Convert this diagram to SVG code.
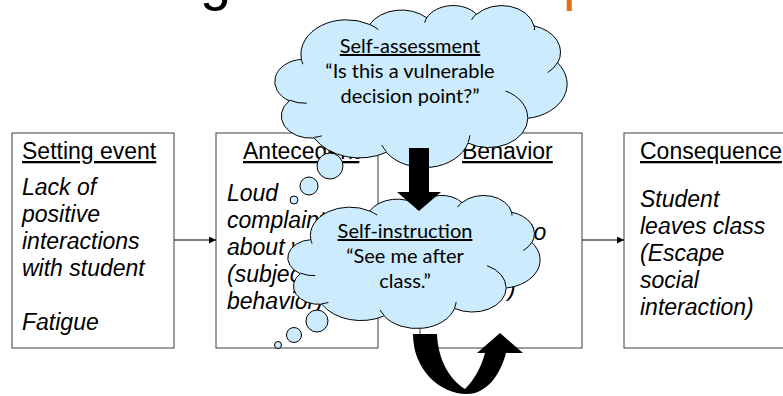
<svg xmlns="http://www.w3.org/2000/svg" width="783" height="396" viewBox="0 0 783 396">
<defs>
<style>
.box{fill:#fff;stroke:#3f3f3f;stroke-width:1}
.hdr{font-family:"Liberation Sans",Arial,sans-serif;font-size:23px;text-decoration:underline;fill:#000}
.body{font-family:"Liberation Sans",Arial,sans-serif;font-size:23px;font-style:italic;fill:#000}
.cloud{fill:#CCEBFC;stroke:#000;stroke-width:1}
.cloudline{fill:none;stroke:#000;stroke-width:1}
.ctext{font-family:Lato,"Open Sans",sans-serif;font-size:20px;fill:#000;text-anchor:middle}
.u{text-decoration:underline}
.conn{stroke:#000;stroke-width:1;fill:none}
.block{fill:#000;stroke:none}
.title{font-family:"Liberation Sans",Arial,sans-serif;font-size:56px}
</style>
<path id="cloudShape" vector-effect="non-scaling-stroke" d="M39.00,143.70 A67.53,91.90 0 0 1 140.05,52.02 A53.33,72.67 0 0 1 224.56,34.32 A43.65,59.45 0 0 1 298.33,24.81 A48.57,65.95 0 0 1 383.17,55.78 A53.33,72.73 0 0 1 418.18,154.62 A67.75,92.20 0 0 1 374.05,302.07 A57.85,78.67 0 0 1 285.56,368.18 A67.52,92.15 0 0 1 164.80,392.69 A77.20,105.43 0 0 1 58.02,354.75 A43.60,59.18 0 0 1 21.10,255.53 A43.45,59.45 0 0 1 38.60,145.09 Z"/>
<path id="cloudInner" vector-effect="non-scaling-stroke" d="M46.93,261.77 A43.45,59.45 0 0 1 21.60,253.80 M69.28,348.99 A43.60,59.18 0 0 1 58.19,352.81 M164.78,390.90 A67.52,92.15 0 0 1 158.11,373.48 M288.27,347.51 A67.52,92.15 0 0 1 285.60,366.61 M341.29,229.54 A57.85,78.67 0 0 1 373.81,300.89 M417.98,153.54 A53.33,72.73 0 0 1 403.50,180.30 M383.24,54.26 A48.57,65.95 0 0 1 384.00,66.89 M290.78,39.52 A48.57,65.95 0 0 1 298.21,23.38 M221.41,47.20 A43.65,59.45 0 0 1 225.00,33.29 M140.00,51.92 A67.53,91.90 0 0 1 153.00,65.41 M41.27,157.89 A67.53,91.90 0 0 1 39.01,143.72"/>
<marker id="ah" viewBox="0 0 10 10" refX="10" refY="5" markerWidth="8" markerHeight="7" orient="auto" markerUnits="userSpaceOnUse"><path d="M0,0 L10,5 L0,10 Z" fill="#000"/></marker>
</defs>
<rect x="0" y="0" width="783" height="396" fill="#fff"/>

<g id="title">
<text class="title" x="200" y="-1" fill="#000">g</text>
<text class="title" x="563" y="-1" fill="#E46C0A">p</text>
</g>

<g id="setting-event">
<rect class="box" x="12" y="133" width="162" height="215"/>
<text class="hdr" x="22" y="159">Setting event</text>
<text class="body" x="22" y="195">Lack of</text>
<text class="body" x="22" y="222">positive</text>
<text class="body" x="22" y="249">interactions</text>
<text class="body" x="22" y="276">with student</text>
<text class="body" x="22" y="330">Fatigue</text>
</g>

<g id="antecedent">
<rect class="box" x="216" y="133" width="162" height="215"/>
<text class="hdr" x="243" y="159">Antecedent</text>
<text class="body" x="227" y="201">Loud</text>
<text class="body" x="227" y="228">complaints</text>
<text class="body" x="227" y="255">about work</text>
<text class="body" x="227" y="282">(subjective</text>
<text class="body" x="227" y="309">behavior)</text>
</g>

<g id="behavior">
<rect class="box" x="420" y="133" width="162" height="215"/>
<text class="hdr" x="462" y="159">Behavior</text>
<text class="body" x="527" y="240">to</text>
<text class="body" x="508" y="296">)</text>
</g>

<g id="consequence">
<rect class="box" x="624" y="133" width="162" height="215"/>
<text class="hdr" x="640" y="159">Consequence</text>
<text class="body" x="640" y="207">Student</text>
<text class="body" x="640" y="234">leaves class</text>
<text class="body" x="640" y="261">(Escape</text>
<text class="body" x="640" y="288">social</text>
<text class="body" x="640" y="315">interaction)</text>
</g>

<g id="connectors-lines">
<line class="conn" x1="174" y1="240" x2="216" y2="240" marker-end="url(#ah)"/>
<line class="conn" x1="582" y1="240" x2="624" y2="240" marker-end="url(#ah)"/>
</g>

<g id="self-assessment">
<use href="#cloudShape" class="cloud" transform="translate(275 5) scale(0.6759 0.375)"/>
<use href="#cloudInner" class="cloudline" transform="translate(275 5) scale(0.6759 0.375)"/>
<circle class="cloud" cx="330" cy="166" r="13"/>
<circle class="cloud" cx="309" cy="186" r="9"/>
<circle class="cloud" cx="294" cy="200" r="4"/>
<text class="ctext u" x="410" y="53">Self-assessment</text>
<text class="ctext" x="410" y="78">“Is this a vulnerable</text>
<text class="ctext" x="410" y="103">decision point?”</text>
</g>

<g id="self-instruction">
<use href="#cloudShape" class="cloud" transform="translate(288 195) scale(0.5833 0.3079)"/>
<use href="#cloudInner" class="cloudline" transform="translate(288 195) scale(0.5833 0.3079)"/>
<circle class="cloud" cx="317" cy="321" r="11"/>
<circle class="cloud" cx="294" cy="335" r="7.5"/>
<circle class="cloud" cx="278" cy="345" r="3.5"/>
<text class="ctext u" x="405" y="238">Self-instruction</text>
<text class="ctext" x="405" y="263">“See me after</text>
<text class="ctext" x="405" y="288">class.”</text>
</g>

<g id="connectors-block">
<polygon class="block" points="409,148 429,148 429,192 441,192 419,211 397,192 409,192"/>
<path class="block" d="M413,334 L437,334 C438,360 450,380 465,389 C474,380 481,368 485,353 L477,353 L500,333 L523,353 L506,353 C500,376 486,394 467,394 C440,394 413,370 413,334 Z"/>
</g>
</svg>
